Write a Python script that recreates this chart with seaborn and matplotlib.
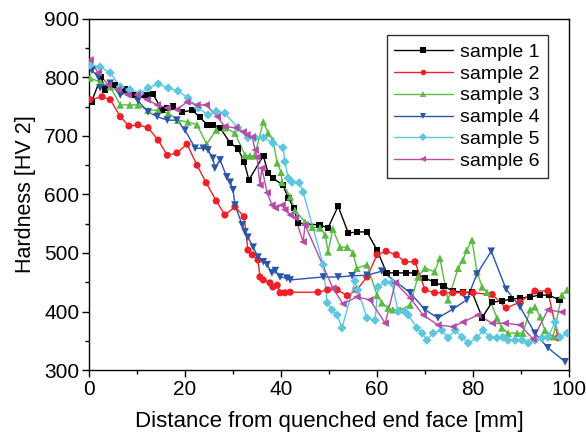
import numpy as np
import pandas as pd
import matplotlib
matplotlib.use("Agg")
import matplotlib.pyplot as plt
import seaborn as sns
from matplotlib.ticker import MultipleLocator
from matplotlib.lines import Line2D

# ---- data ----
x1 = [0.5,2.5,3.3,5.4,7.5,9.6,11.3,12.3,13.3,15.2,16.3,17.5,19.4,21.5,23.1,24.6,25.8,27.3,29.4,31,32.3,33.3,36.3,37.3,38.3,40.4,41.5,42.7,43.5,48,49.8,51.9,54,55.8,57.9,60,62,64,66,67.9,70,72,73.8,75.8,77.9,79.8,81.9,84,86,87.9,89.8,91.9,94,95.8,98]
y1 = [758,801,779,787,779,770,770,770,772,744,748,750,741,744,732,719,719,714,688,679,656,625,666,637,628,616,594,577,551,548,543,580,534,536,536,505,466,466,466,466,457,450,444,435,433,433,390,416,418,421,423,425,428,428,420]

x2 = [0.2,2.7,4.4,6.5,8.3,10.2,12.3,14.4,16.3,18.3,20.4,22.5,24.4,26.5,28.3,30.4,32.3,33.1,34,35.2,35.6,36.3,37.7,38.3,39.2,39.8,40.8,41.9,47.7,49.7,51.7,53.8,55.8,57.9,60,61.9,64,65.8,67.9,70,72,73.8,75.8,77.9,80,84,86.9,89.8,92.9,95.6,97.7]
y2 = [762,767,762,733,717,719,714,693,667,671,686,650,620,589,565,579,562,505,497,488,459,454,449,442,445,432,432,433,433,437,437,427,437,459,497,503,497,485,485,437,432,432,432,432,432,429,406,416,435,435,355]

x3 = [0.2,2.3,4.4,6.5,8.5,10.2,12.3,14.4,16.5,18.5,20.6,22.5,24.5,26.5,28.3,30.4,32.5,33.5,34.5,36.3,37.3,38.3,39.2,40,40.2,41.9,42.9,45,46.5,48.1,49.2,49.8,50.8,52.3,53.8,55,55.8,57.9,60,61,62.3,63.3,64.8,66.9,68.5,70,72,73.1,74.8,76.9,77.9,78.7,79.8,80.8,81.9,82.9,85,86,87.3,89.2,90.4,91.9,92.9,94,95,96.7,98.5,99.6]
y3 = [799,792,784,753,753,753,744,744,739,727,724,719,686,710,714,705,667,666,666,724,705,693,654,638,621,596,573,553,544,543,531,502,541,510,510,500,474,480,428,415,406,403,403,411,459,474,468,491,420,474,488,505,522,468,442,433,389,372,363,363,363,403,408,391,368,357,428,437]

x4 = [0.6,1.9,2.3,4.4,6.5,8.1,10.2,12.3,14.2,16.3,18.3,20,22.1,23.8,24.8,25.8,26.2,27.3,28.7,29.4,30,30.4,31.9,32.5,33.1,34.2,35.2,36.3,37.1,38.1,38.8,39.8,41.2,41.9,48.8,51.9,54.8,57.9,61,66.9,70,72.7,75.8,78.7,80.8,83.8,86.9,89.8,92.9,95.6,99.2]
y4 = [812,801,782,790,770,775,760,741,733,727,727,710,679,679,676,662,645,659,630,621,608,582,548,536,527,510,493,485,480,466,470,459,457,454,459,459,461,462,469,432,403,389,404,420,464,503,438,408,363,338,314]

x5 = [0.2,2.3,4.4,6.5,8.5,10.6,12.3,14.4,16.5,18.5,20.6,22.7,24.8,26.5,28.3,31,33.1,34.6,36.3,38.3,40.4,40.8,41.5,42.3,43.8,44.6,48.8,49.6,50.6,51.7,52.7,55.4,56,57.9,59.6,60.2,61.7,63.1,64.4,65.8,66.5,68.3,69.4,70.4,71.7,73.5,74.8,76.3,77.7,79,80.8,82.1,83.5,85,86.2,87.3,88.8,90.2,91.5,92.9,94.4,95.6,97.1,98.1,99.6]
y5 = [821,818,808,784,779,773,782,789,782,777,765,748,736,742,739,714,697,697,697,688,680,656,628,621,620,604,480,415,403,394,372,452,437,389,385,442,450,449,400,400,394,372,363,351,363,368,355,368,356,346,355,368,356,355,356,351,351,351,346,351,355,356,382,356,363]

x6 = [0.2,1.9,4,6,8.1,10,12.1,14.2,16.3,18.3,20.4,22.5,24.4,26.7,28.3,30.6,32.1,32.9,34,34.6,35,35.6,36,37.1,38.1,38.8,40.2,40.8,41.9,43,44.6,45,50.8,52.9,55.8,58.5,61.7,63.8,66.9,69.6,72.7,75.8,77.9,81,84,86.7,89.8,92.5,95.6,98.5]
y6 = [830,808,787,779,770,770,762,753,748,745,758,753,753,733,716,714,707,702,698,676,664,616,645,603,582,577,582,574,565,560,519,548,440,413,425,420,380,449,423,394,377,374,382,394,380,380,377,353,403,399]

names = ["sample 1","sample 2","sample 3","sample 4","sample 5","sample 6"]
xs = [x1,x2,x3,x4,x5,x6]
ys = [y1,y2,y3,y4,y5,y6]
colors = ["#000000","#ee2028","#5cb946","#2a55a8","#5ec6de","#b24ea8"]
markers = ["s","o","^","v","D","<"]
msizes = [22,26,30,30,22,30]

sns.set_style("ticks")
plt.rcParams['font.family'] = ['Liberation Sans', 'DejaVu Sans']
plt.rcParams['text.color'] = 'black'
plt.rcParams['axes.labelcolor'] = 'black'
plt.rcParams['xtick.color'] = 'black'
plt.rcParams['ytick.color'] = 'black'

fig = plt.figure(figsize=(5.86, 4.40), dpi=100)
ax = fig.add_axes([0.152, 0.159, 0.819, 0.798])

for n, x, y, c, m, s in zip(names, xs, ys, colors, markers, msizes):
    df = pd.DataFrame({"x": x, "y": y})
    sns.lineplot(data=df, x="x", y="y", ax=ax, color=c, lw=1.0, sort=False,
                 estimator=None, legend=False)
    sns.scatterplot(data=df, x="x", y="y", ax=ax, color=c, marker=m, s=s,
                    edgecolor="none", legend=False, zorder=3)

ax.set_xlim(0, 100)
ax.set_ylim(300, 900)
ax.xaxis.set_major_locator(MultipleLocator(20))
ax.xaxis.set_minor_locator(MultipleLocator(10))
ax.yaxis.set_major_locator(MultipleLocator(100))
ax.yaxis.set_minor_locator(MultipleLocator(50))
ax.tick_params(which="major", length=5, width=1, labelsize=15, direction="out", pad=2)
ax.tick_params(which="minor", length=3, width=1, direction="out")
for sp in ax.spines.values():
    sp.set_linewidth(1.0)
    sp.set_color("black")
ax.set_xlabel("Distance from quenched end face [mm]", fontsize=16, labelpad=9)
ax.set_ylabel("Hardness [HV 2]", fontsize=15.5, labelpad=6)

handles = [Line2D([0],[0], color=c, lw=1.0, marker=m, markersize=4, markeredgewidth=0)
           for c, m in zip(colors, markers)]
leg = ax.legend(handles, names, loc="upper right", bbox_to_anchor=(0.968, 0.97),
                fontsize=14, frameon=True, fancybox=False, edgecolor="black",
                handlelength=3.0, handletextpad=0.4, labelspacing=0.22,
                borderpad=0.4, borderaxespad=0.3)
leg.get_frame().set_linewidth(1.0)

fig.savefig("out.png", dpi=100)
